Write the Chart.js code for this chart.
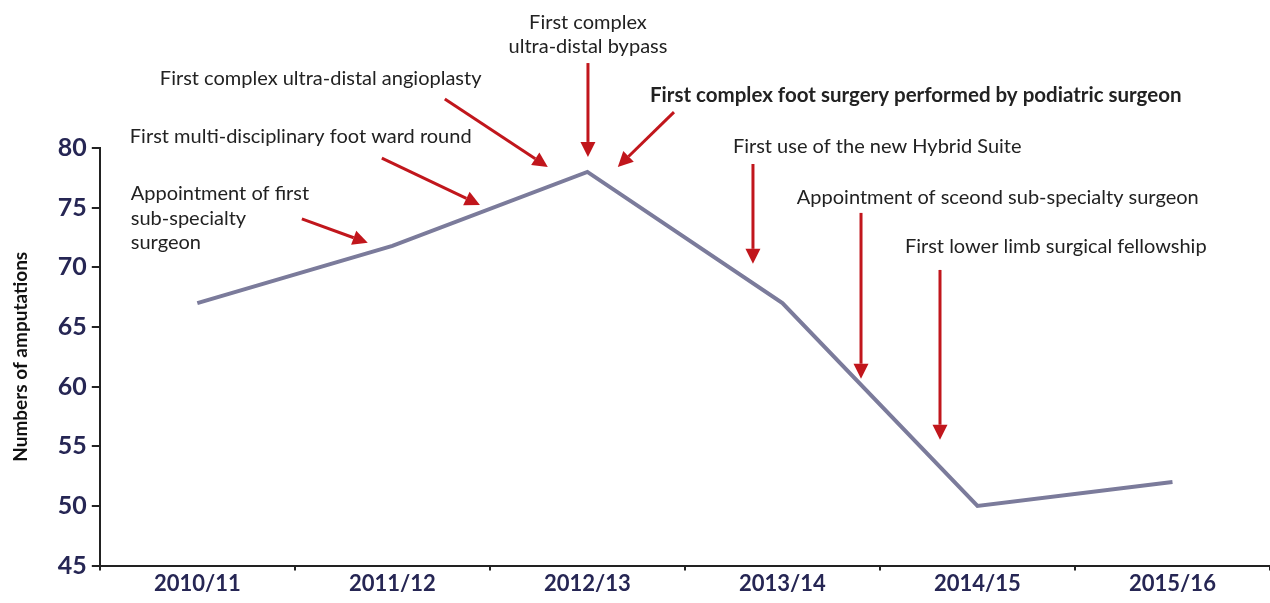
<!DOCTYPE html>
<html>
<head>
<meta charset="utf-8">
<script src="https://cdn.jsdelivr.net/npm/chart.js@4"></script>
<style>
  html, body { margin: 0; padding: 0; background: #fff; }
  #wrap { width: 1270px; height: 603px; }
</style>
</head>
<body>
<div id="wrap"><canvas id="amputations"></canvas></div>
<script>
const years = ['2010/11', '2011/12', '2012/13', '2013/14', '2014/15', '2015/16'];
const amputations = [67, 71.8, 78, 67, 50, 52];
const yTicks = [45, 50, 55, 60, 65, 70, 75, 80];

// milestone notes, placed in data units (x = category index, y = value)
const noteLines = [
  ['Appointment of first', 'sub-specialty', 'surgeon'],
  ['First multi-disciplinary foot ward round'],
  ['First complex ultra-distal angioplasty'],
  ['First complex', 'ultra-distal bypass'],
  ['First complex foot surgery performed by podiatric surgeon'],
  ['First use of the new Hybrid Suite'],
  ['Appointment of sceond sub-specialty surgeon'],
  ['First lower limb surgical fellowship'],
];
const noteAt = [[-0.341, 76.15], [-0.346, 80.92], [-0.192, 85.78], [2.003, 90.55], [2.321, 84.44], [2.746, 80.08], [3.074, 75.81], [3.628, 71.71]];
const noteBold = [false, false, false, false, true, false, false, false];
const arrowFrom = [[0.536, 74.06], [0.946, 79.16], [1.269, 84.10], [2.003, 87.12], [2.444, 83.01], [2.849, 78.66], [3.403, 74.56], [3.808, 69.78]];
const arrowTo = [[0.874, 72.05], [1.449, 75.23], [1.797, 78.41], [2.003, 79.25], [2.156, 78.41], [2.849, 70.29], [3.403, 60.66], [3.808, 55.55]];

const FONT = 'Lato, "Noto Sans", sans-serif';
const RED = '#c1161c';

function xPix(x, idx) {
  // category axis: interpolate between category centers
  const a = x.getPixelForValue(0);
  const b = x.getPixelForValue(1);
  return a + (b - a) * idx;
}

const milestones = {
  id: 'milestones',
  afterDatasetsDraw(chart) {
    const { ctx, scales } = chart;
    const x = scales.x;
    const y = scales.y;
    ctx.save();

    // arrows
    ctx.strokeStyle = RED;
    ctx.fillStyle = RED;
    ctx.lineWidth = 3;
    arrowFrom.forEach((from, i) => {
      const x1 = xPix(x, from[0]);
      const y1 = y.getPixelForValue(from[1]);
      const x2 = xPix(x, arrowTo[i][0]);
      const y2 = y.getPixelForValue(arrowTo[i][1]);
      const ang = Math.atan2(y2 - y1, x2 - x1);
      const head = 15;
      const half = 7.5;
      const bx = x2 - head * Math.cos(ang);
      const by = y2 - head * Math.sin(ang);
      ctx.beginPath();
      ctx.moveTo(x1, y1);
      ctx.lineTo(bx, by);
      ctx.stroke();
      ctx.beginPath();
      ctx.moveTo(x2, y2);
      ctx.lineTo(bx + half * Math.sin(ang), by - half * Math.cos(ang));
      ctx.lineTo(bx - half * Math.sin(ang), by + half * Math.cos(ang));
      ctx.closePath();
      ctx.fill();
    });

    // texts
    ctx.fillStyle = '#222';
    ctx.textBaseline = 'middle';
    noteLines.forEach((lines, i) => {
      const centered = i === 3;
      ctx.font = noteBold[i] ? 'bold 20.5px ' + FONT : '20px ' + FONT;
      ctx.textAlign = centered ? 'center' : 'left';
      const px = xPix(x, noteAt[i][0]);
      const py = y.getPixelForValue(noteAt[i][1]);
      lines.forEach((t, k) => ctx.fillText(t, px, py + k * 24.5));
    });
    ctx.restore();
  },
};

new Chart(document.getElementById('amputations'), {
  type: 'line',
  data: {
    labels: years,
    datasets: [{
      data: amputations,
      borderColor: '#7b7b9b',
      borderWidth: 4,
      pointRadius: 0,
      tension: 0,
      fill: false,
    }],
  },
  options: {
    responsive: true,
    maintainAspectRatio: false,
    animation: false,
    layout: { padding: { top: 148, right: 0, left: 9, bottom: 6 } },
    plugins: {
      legend: { display: false },
      tooltip: { enabled: false },
    },
    scales: {
      x: {
        offset: true,
        grid: { offset: true, drawOnChartArea: false, drawTicks: true, tickLength: 5, color: '#222', lineWidth: 2 },
        border: { color: '#222', width: 2 },
        ticks: { color: '#262654', font: { family: FONT, size: 22, weight: 'bold' }, padding: 0 },
      },
      y: {
        min: 45,
        max: 80,
        afterBuildTicks: (axis) => { axis.ticks = yTicks.map((v) => ({ value: v })); },
        grid: { drawOnChartArea: false, drawTicks: true, tickLength: 8, color: '#222', lineWidth: 2 },
        border: { color: '#222', width: 2 },
        ticks: { color: '#262654', font: { family: FONT, size: 25, weight: 'bold' }, padding: 5 },
        title: { display: true, text: 'Numbers of amputations', color: '#111', font: { family: FONT, size: 19, weight: 'bold' }, padding: { top: 0, bottom: 21 } },
      },
    },
  },
  plugins: [milestones],
});
</script>
</body>
</html>
